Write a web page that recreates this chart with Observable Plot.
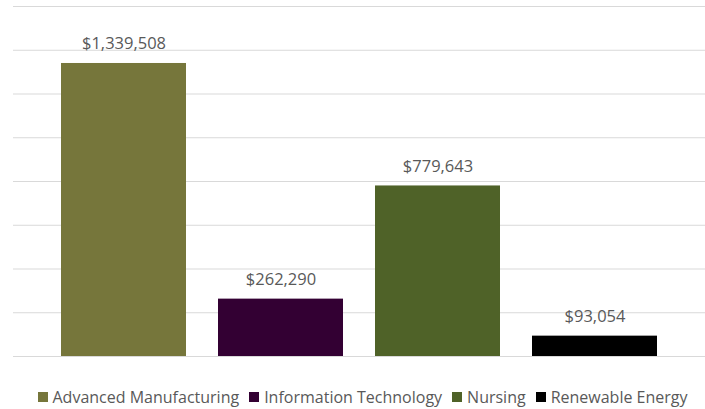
<!DOCTYPE html>
<html>
<head>
<meta charset="utf-8">
<script src="https://cdn.jsdelivr.net/npm/d3@7"></script>
<script src="https://cdn.jsdelivr.net/npm/@observablehq/plot@0.6"></script>
<style>
  body { margin: 0; background: #fff; font-family: "Open Sans", sans-serif; }
  #chart { width: 705px; }
  .lg-swatches-wrap { justify-content: center; padding-left: 30px; }
  .lg-swatch { margin-right: 10px !important; }
  .lg-swatch > svg { margin-right: 5px !important; }
</style>
</head>
<body>
<div id="chart"></div>
<script>
const categories = ["Advanced Manufacturing", "Information Technology", "Nursing", "Renewable Energy"];
const values = [1339508, 262290, 779643, 93054];
const colors = ["#76763B", "#330033", "#4F6228", "#000000"];
const yTicks = [0, 200000, 400000, 600000, 800000, 1000000, 1200000, 1400000, 1600000];

const data = categories.map((c, i) => ({category: c, value: values[i]}));
const fmt = d3.format("$,");

const chart = Plot.plot({
  width: 705,
  height: 380,
  marginTop: 6,
  marginBottom: 24,
  marginLeft: 13,
  marginRight: 0,
  style: {fontFamily: "Open Sans, sans-serif", background: "#fff"},
  x: {domain: categories, axis: null, paddingInner: 0.202, paddingOuter: 0.295},
  y: {domain: [0, 1600000], axis: null},
  color: {domain: categories, range: colors},
  marks: [
    Plot.ruleY(yTicks, {stroke: "#D9D9D9", strokeWidth: 1, strokeOpacity: 1}),
    Plot.barY(data, {x: "category", y: "value", fill: "category"}),
    Plot.text(data, {
      x: "category", y: "value", text: d => fmt(d.value),
      lineAnchor: "bottom", dy: -14, fill: "#595959", fontSize: 16.5
    })
  ]
});
document.getElementById("chart").appendChild(chart);

const legend = Plot.legend({
  color: {domain: categories, range: colors},
  legend: "swatches",
  swatchSize: 10,
  className: "lg",
  style: {fontFamily: "Open Sans, sans-serif", fontSize: "16px", color: "#595959"}
});
document.getElementById("chart").appendChild(legend);
</script>
</body>
</html>
